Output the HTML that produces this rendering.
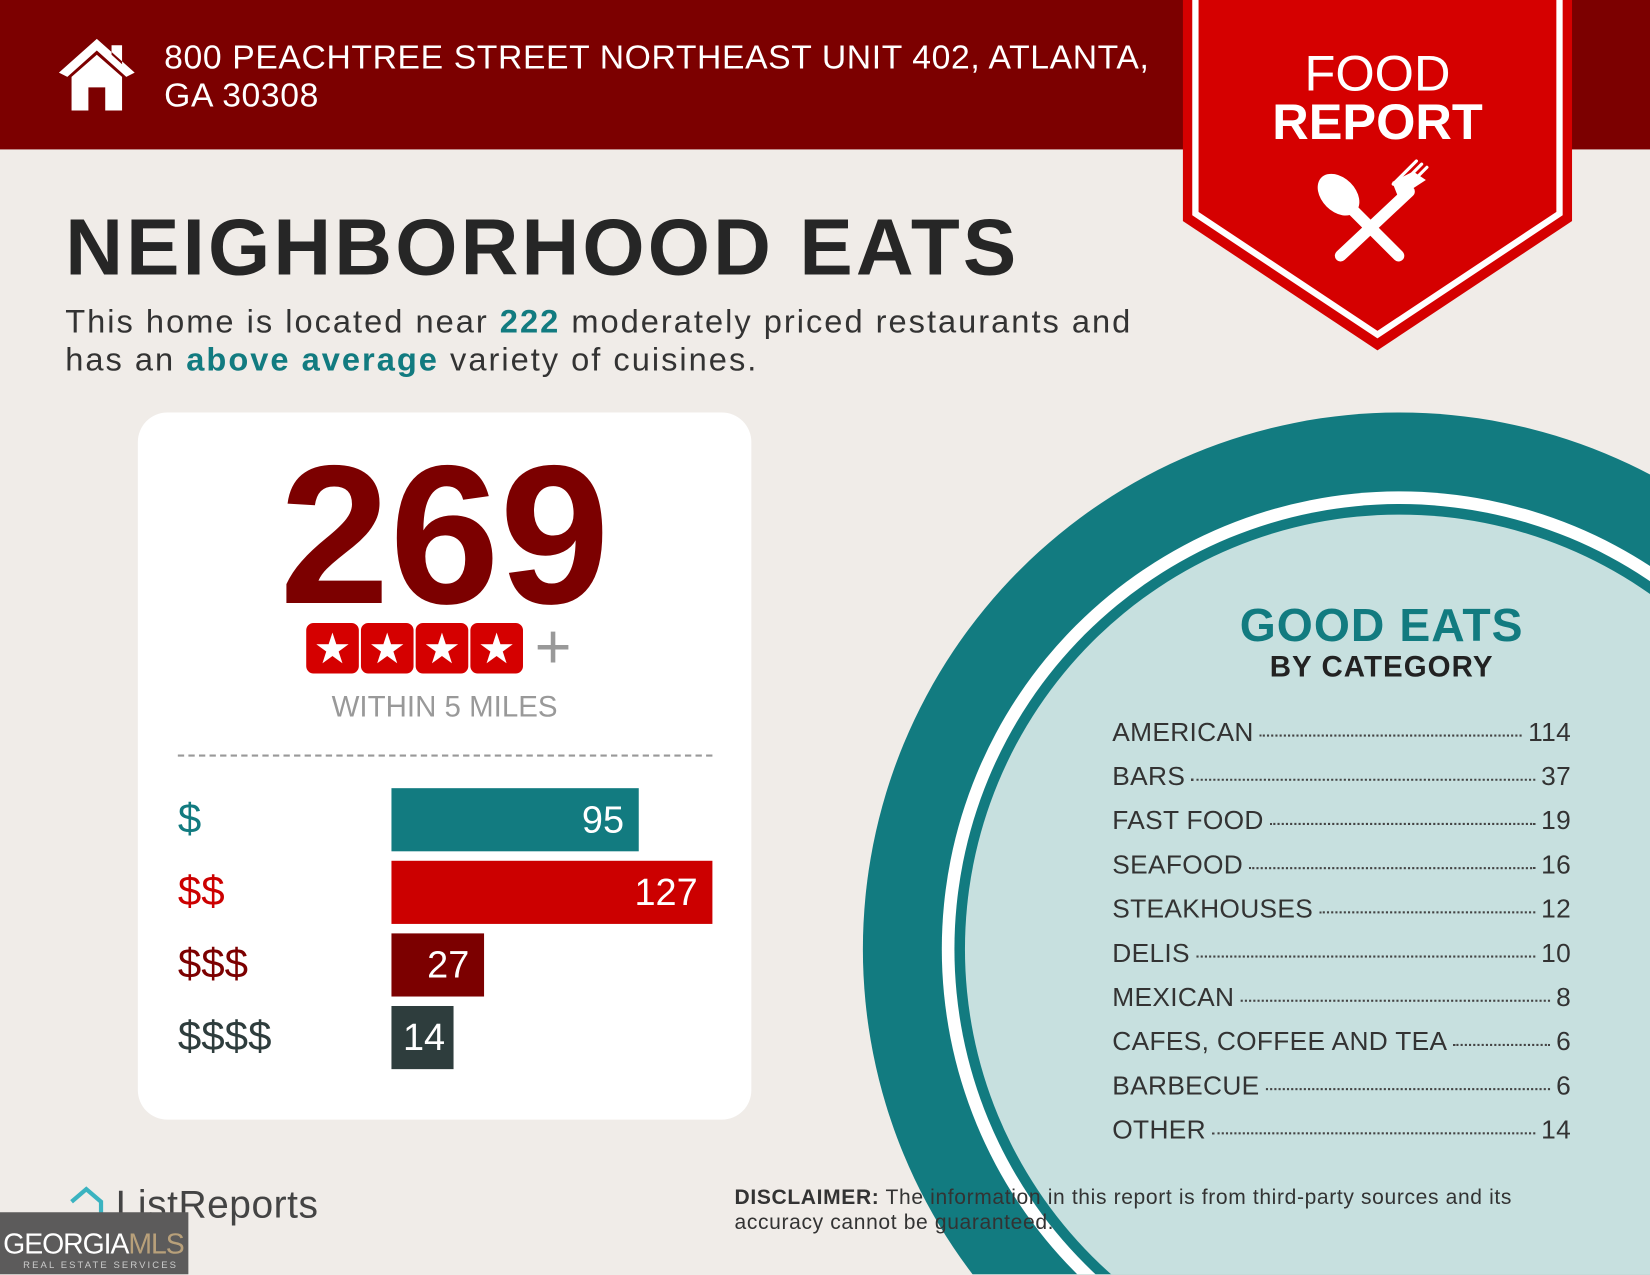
<!DOCTYPE html>
<html><head><meta charset="utf-8"><style>
html,body{margin:0;padding:0;width:1650px;height:1275px;overflow:hidden;background:#f0ece8;}
#w{position:absolute;left:0;top:0;width:1568px;height:1211px;transform:scale(1.05230);transform-origin:0 0;font-family:"Liberation Sans",sans-serif;overflow:hidden;background:#f0ece8;}
.a{position:absolute;white-space:nowrap;}
.row{position:absolute;left:1057px;width:436px;font-size:25px;color:#333;display:flex;align-items:baseline;letter-spacing:0.3px;}
.row .d{flex:1;border-bottom:2px dotted #444;margin:0 6px;height:0;position:relative;top:-4px;}
</style></head><body><div id="w">
<div class="a" style="left:0;top:0;width:1568px;height:142px;background:#7c0000"></div>
<svg class="a" style="left:54px;top:35px" width="76" height="70" viewBox="0 0 76 70"><path d="M38 2 L2 34 L10 38 L38 13 L66 38 L74 34 Z M52 8 h10 v18 l-10 -9z" fill="#fff"/><path d="M14 38 L38 17 L62 38 V70 H46 V48 H30 V70 H14Z" fill="#fff"/></svg>
<div class="a" style="left:156px;top:36px;font-size:32px;line-height:36px;color:#fff;letter-spacing:0.6px;">800 PEACHTREE STREET NORTHEAST UNIT 402, ATLANTA,<br>GA 30308</div>
<svg class="a" style="left:0;top:0" width="1568" height="1211"><circle cx="1330" cy="902" r="510" fill="#127b80"/><circle cx="1330" cy="902" r="435" fill="#fff"/><circle cx="1330" cy="902" r="423" fill="#127b80"/><circle cx="1330" cy="902" r="413" fill="#c7e0df"/></svg>
<svg class="a" style="left:1124px;top:0" width="370" height="335" viewBox="0 0 370 335"><path d="M0 0 H370 V210 L185 333 L0 210Z" fill="#d50000"/><path d="M12 0 V203 L185 318 L358 203 V0" fill="none" stroke="#fff" stroke-width="6"/>
<g stroke="#fff" stroke-linecap="round" fill="#fff"><line x1="150" y1="243" x2="215" y2="182" stroke-width="11"/><line x1="205" y1="243" x2="160" y2="198" stroke-width="11"/><ellipse cx="148" cy="185" rx="16" ry="23" transform="rotate(-45 148 185)" stroke="none"/><path d="M205 188 l-6 -15 l20 -10 l12 8 z" stroke="none"/><path d="M200 175 l22 -22 M205 178 l22 -22 M210 181 l22 -22" stroke-width="3"/></g></svg>
<div class="a" style="left:1124px;top:48px;width:370px;text-align:center;font-size:48px;line-height:46px;color:#fff;">FOOD<br><b>REPORT</b></div>
<div class="a" style="left:62px;top:192px;font-size:76px;font-weight:bold;color:#262626;letter-spacing:3px;">NEIGHBORHOOD EATS</div>
<div class="a" style="left:62px;top:288px;font-size:31px;line-height:36px;color:#333;letter-spacing:1.9px;">This home is located near <b style="color:#127b80">222</b> moderately priced restaurants and<br>has an <b style="color:#127b80">above average</b> variety of cuisines.</div>
<div class="a" style="left:131px;top:392px;width:583px;height:672px;background:#fff;border-radius:28px;"></div>
<div class="a" style="left:131px;top:400px;width:583px;text-align:center;font-size:188px;font-weight:bold;color:#7c0000;">269</div>
<div class="a" style="left:291px;top:592px;display:flex;gap:2px;">
<div style="width:50px;height:48px;background:#d50000;border-radius:7px;color:#fff;font-size:40px;line-height:50px;text-align:center">★</div><div style="width:50px;height:48px;background:#d50000;border-radius:7px;color:#fff;font-size:40px;line-height:50px;text-align:center">★</div><div style="width:50px;height:48px;background:#d50000;border-radius:7px;color:#fff;font-size:40px;line-height:50px;text-align:center">★</div><div style="width:50px;height:48px;background:#d50000;border-radius:7px;color:#fff;font-size:40px;line-height:50px;text-align:center">★</div></div>
<div class="a" style="left:508px;top:580px;font-size:60px;color:#999;">+</div>
<div class="a" style="left:131px;top:656px;width:583px;text-align:center;font-size:28px;color:#999;">WITHIN 5 MILES</div>
<div class="a" style="left:169px;top:717px;width:508px;border-top:2px dashed #999;"></div>
<div class="a" style="left:169px;top:756px;font-size:40px;color:#127b80">$</div>
<div class="a" style="left:169px;top:825px;font-size:40px;color:#cc0000">$$</div>
<div class="a" style="left:169px;top:894px;font-size:40px;color:#7c0000">$$$</div>
<div class="a" style="left:169px;top:963px;font-size:40px;color:#2e3d3d">$$$$</div>
<div class="a" style="left:372px;top:749px;width:235px;height:60px;background:#127b80;color:#fff;font-size:36px;line-height:60px;text-align:right;box-sizing:border-box;padding-right:14px">95</div>
<div class="a" style="left:372px;top:818px;width:305px;height:60px;background:#cc0000;color:#fff;font-size:36px;line-height:60px;text-align:right;box-sizing:border-box;padding-right:14px">127</div>
<div class="a" style="left:372px;top:887px;width:88px;height:60px;background:#7c0000;color:#fff;font-size:36px;line-height:60px;text-align:right;box-sizing:border-box;padding-right:14px">27</div>
<div class="a" style="left:372px;top:956px;width:59px;height:60px;background:#2e3d3d;color:#fff;font-size:36px;line-height:60px;text-align:right;box-sizing:border-box;padding-right:8px">14</div>
<div class="a" style="left:1080px;top:570px;width:466px;text-align:center;font-size:44px;font-weight:bold;color:#127b80;letter-spacing:1px">GOOD EATS</div>
<div class="a" style="left:1080px;top:618px;width:466px;text-align:center;font-size:28px;font-weight:bold;color:#222;letter-spacing:1px">BY CATEGORY</div>
<div class="row" style="top:682px">AMERICAN<span class="d"></span>114</div>
<div class="row" style="top:724px">BARS<span class="d"></span>37</div>
<div class="row" style="top:766px">FAST FOOD<span class="d"></span>19</div>
<div class="row" style="top:808px">SEAFOOD<span class="d"></span>16</div>
<div class="row" style="top:850px">STEAKHOUSES<span class="d"></span>12</div>
<div class="row" style="top:892px">DELIS<span class="d"></span>10</div>
<div class="row" style="top:934px">MEXICAN<span class="d"></span>8</div>
<div class="row" style="top:976px">CAFES, COFFEE AND TEA<span class="d"></span>6</div>
<div class="row" style="top:1018px">BARBECUE<span class="d"></span>6</div>
<div class="row" style="top:1060px">OTHER<span class="d"></span>14</div>
<div class="a" style="left:698px;top:1126px;font-size:20px;line-height:24px;color:#333;letter-spacing:0.6px;">
<b>DISCLAIMER:</b> The information in this report is from third-party sources and its<br>accuracy cannot be guaranteed.</div>
<svg class="a" style="left:62px;top:1126px" width="40" height="40"><path d="M6 16 L20 4 L34 16 V30" fill="none" stroke="#3bb3c0" stroke-width="4"/></svg>
<div class="a" style="left:110px;top:1124px;font-size:37px;color:#444;letter-spacing:0.5px;">ListReports</div>
<div class="a" style="left:0;top:1152px;width:179px;height:59px;background:#5c5b5b;"></div>
<div class="a" style="left:3px;top:1167px;font-size:27px;color:#fff;letter-spacing:-1px">GEORGIA<span style="color:#b8a07a">MLS</span></div>
<div class="a" style="left:22px;top:1197px;font-size:9px;line-height:10px;color:#ccc;letter-spacing:2px">REAL ESTATE SERVICES</div>
</div></body></html>
